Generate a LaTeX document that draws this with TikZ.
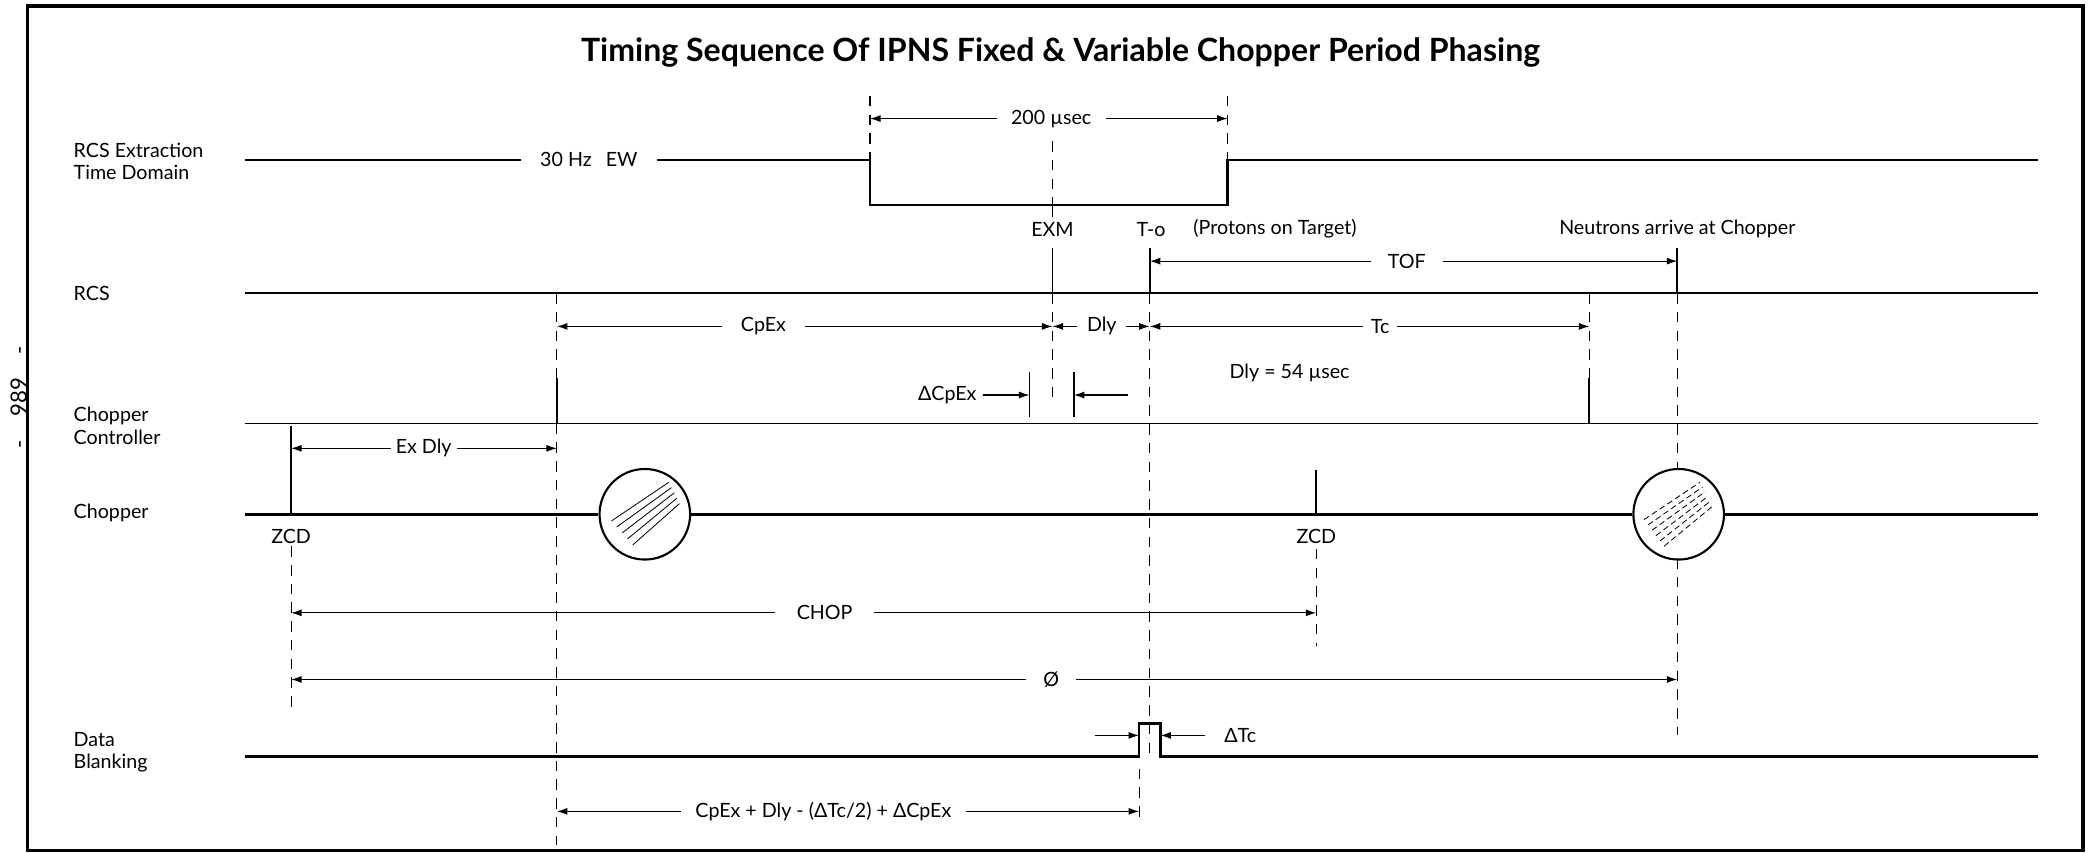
\documentclass[tikz,border=0pt]{standalone}
\usepackage{fontspec}
\setmainfont{Lato}
\usetikzlibrary{arrows.meta}

\tikzset{
  sig/.style={line width=1.1pt},
  ctlsig/.style={line width=0.7pt},
  pulse/.style={line width=0.8pt},
  dimln/.style={line width=0.5pt, ->},
  extln/.style={line width=0.5pt, dash pattern=on 4.5pt off 3.5pt},
  hatch/.style={line width=0.35pt},
  lab/.style={font=\fontsize{8.4}{9.6}\selectfont, inner sep=0pt},
  rowlab/.style={lab, anchor=west, align=left},
  dimtxt/.style={lab, inner xsep=5pt},
  disc/.style={circle, draw, line width=0.9pt, minimum size=1.36cm, inner sep=0pt},
}

\begin{document}
\begin{tikzpicture}[x=0.02cm, y=-0.02cm, >={Latex[length=4.5pt,width=3pt]}]
    \useasboundingbox (0,0) rectangle (1568,640);
    \draw[line width=1.5pt] (20.5,4.5) rectangle (1563.5,638.5);

    \node[font=\fontsize{9.5}{11}\selectfont, inner sep=0pt, rotate=90] (pg) at (14,298) {-\hspace{10pt}989\hspace{10pt}-};

    \node[font=\fontsize{13.7}{15}\selectfont\bfseries, anchor=base] (title) at (796,46)
        {Timing Sequence Of IPNS Fixed \& Variable Chopper Period Phasing};

    % row names
    \node[rowlab] (lext) at (55,121) {RCS Extraction\\Time Domain};
    \node[rowlab] (lrcs) at (55,220) {RCS};
    \node[rowlab] (lctl) at (55,319.5) {Chopper\\Controller};
    \node[rowlab] (lchp) at (55,385) {Chopper};
    \node[rowlab] (lblk) at (55,564.5) {Data\\Blanking};

    % extraction window
    \node[dimtxt, inner xsep=8pt] (ew) at (442,120) {30 Hz\hspace{6pt}EW};
    \draw[sig] (184,120) -- (ew.west);
    \draw[sig] (ew.east) -- (653,120) -- (653,154) -- (921.5,154) -- (921.5,120) -- (1530,120);

    \draw[extln] (653,72) -- (653,120);
    \draw[extln] (921.5,72) -- (921.5,120);
    \node[dimtxt, inner xsep=6pt] (w200) at (789,89) {200 µsec};
    \draw[dimln] (w200) -- (653,89);
    \draw[dimln] (w200) -- (921.5,89);

    \draw[extln] (790,106) -- (790,154);
    \draw[pulse] (790,154) -- (790,163);
    \node[lab] (exm) at (790,172) {EXM};
    \node[lab] (t0) at (864,172) {T-o};
    \node[lab] (pot) at (957,172) {(Protons on Target)};
    \node[lab] (neu) at (1259,172) {Neutrons arrive at Chopper};

    % RCS
    \draw[sig] (184,220) -- (1530,220);
    \foreach \x in {790, 863, 1259}
        \draw[pulse] (\x,186) -- (\x,220);

    \node[dimtxt, inner xsep=7pt] (tof) at (1056,196) {TOF};
    \draw[dimln] (tof) -- (863,196);
    \draw[dimln] (tof) -- (1259,196);

    % extension lines
    \draw[extln] (418,220) -- (418,284);
    \draw[extln] (790,220) -- (790,303);
    \draw[extln] (863,220) -- (863,568);
    \draw[extln] (1193,220) -- (1193,284);
    \draw[extln] (1259,220) -- (1259,352);
    \draw[extln] (1259,419) -- (1259,552);
    \draw[extln] (418,318) -- (418,634);
    \draw[extln] (218.5,410) -- (218.5,534);
    \draw[extln] (988,412) -- (988,485);
    \draw[extln] (855,577) -- (855,618);

    \node[dimtxt, inner xsep=8pt] (cpex) at (573,245) {CpEx};
    \draw[dimln] (cpex) -- (418,245);
    \draw[dimln] (cpex) -- (790,245);
    \node[dimtxt, inner xsep=4pt] (dly) at (827,245) {Dly};
    \draw[dimln] (dly) -- (790,245);
    \draw[dimln] (dly) -- (863,245);
    \node[dimtxt, inner xsep=3pt] (tc) at (1036,245) {Tc};
    \draw[dimln] (tc) -- (863,245);
    \draw[dimln] (tc) -- (1193,245);

    \node[lab] (dly54) at (968,280) {Dly = 54 µsec};

    % delta CpEx window
    \draw[pulse] (772.7,279) -- (772.7,313);
    \draw[pulse] (806,279) -- (806,313);
    \node[dimtxt, inner xsep=2.5pt] (dcpex) at (711,296.5) {ΔCpEx};
    \draw[dimln] (dcpex) -- (772.7,296.5);
    \coordinate (dcpR) at (847,296.5);
    \draw[dimln] (dcpR) -- (806,296.5);

    % chopper controller
    \draw[ctlsig] (184,318) -- (1530,318);
    \draw[pulse] (418,284) -- (418,318);
    \draw[pulse] (1193,284) -- (1193,318);

    \draw[pulse] (218.5,320) -- (218.5,386);
    \node[dimtxt, inner xsep=2pt] (exdly) at (318,336.5) {Ex Dly};
    \draw[dimln] (exdly) -- (218.5,336.5);
    \draw[dimln] (exdly) -- (418,336.5);

    % chopper
    \node[disc] (disc1) at (484,386) {};
    \node[disc] (disc2) at (1260,386) {};
    \draw[sig] (184,386) -- (disc1.west);
    \draw[sig] (disc1.east) -- (disc2.west);
    \draw[sig] (disc2.east) -- (1530,386);
    \draw[pulse] (988,353) -- (988,386);

    \begin{scope}[shift={(484,386)}]
        \clip (0,0) circle[radius=32];
        \foreach \i in {0,...,4}
            \draw[hatch] (-25+4*\i,5+4.5*\i) -- (18+2*\i,-24+4*\i);
    \end{scope}
    \begin{scope}[shift={(1260,386)}]
        \clip (0,0) circle[radius=32];
        \foreach \i in {0,...,5}
            \draw[hatch, dash pattern=on 2.5pt off 1.5pt] (-26+3*\i,4+4*\i) -- (16+2*\i,-24+3.5*\i);
    \end{scope}

    \node[lab] (zcd1) at (218.5,403) {ZCD};
    \node[lab] (zcd2) at (988,403) {ZCD};

    \node[dimtxt, inner xsep=9pt] (chop) at (619,460) {CHOP};
    \draw[dimln] (chop) -- (218.5,460);
    \draw[dimln] (chop) -- (988,460);
    \node[dimtxt, inner xsep=7pt] (phi) at (789,510) {Ø};
    \draw[dimln] (phi) -- (218.5,510);
    \draw[dimln] (phi) -- (1259,510);

    % data blanking
    \draw[sig] (184,568) -- (855,568) -- (855,543) -- (871,543) -- (871,568) -- (1530,568);
    \coordinate (dtcL) at (822,552);
    \draw[dimln] (dtcL) -- (855,552);
    \node[dimtxt, inner xsep=8pt] (dtc) at (931,552) {ΔTc};
    \draw[dimln] (dtc) -- (871,552);

    \node[dimtxt, inner xsep=6pt] (sum) at (618,609) {CpEx + Dly - (ΔTc/2) + ΔCpEx};
    \draw[dimln] (sum) -- (418,609);
    \draw[dimln] (sum) -- (855,609);
\end{tikzpicture}
\end{document}
